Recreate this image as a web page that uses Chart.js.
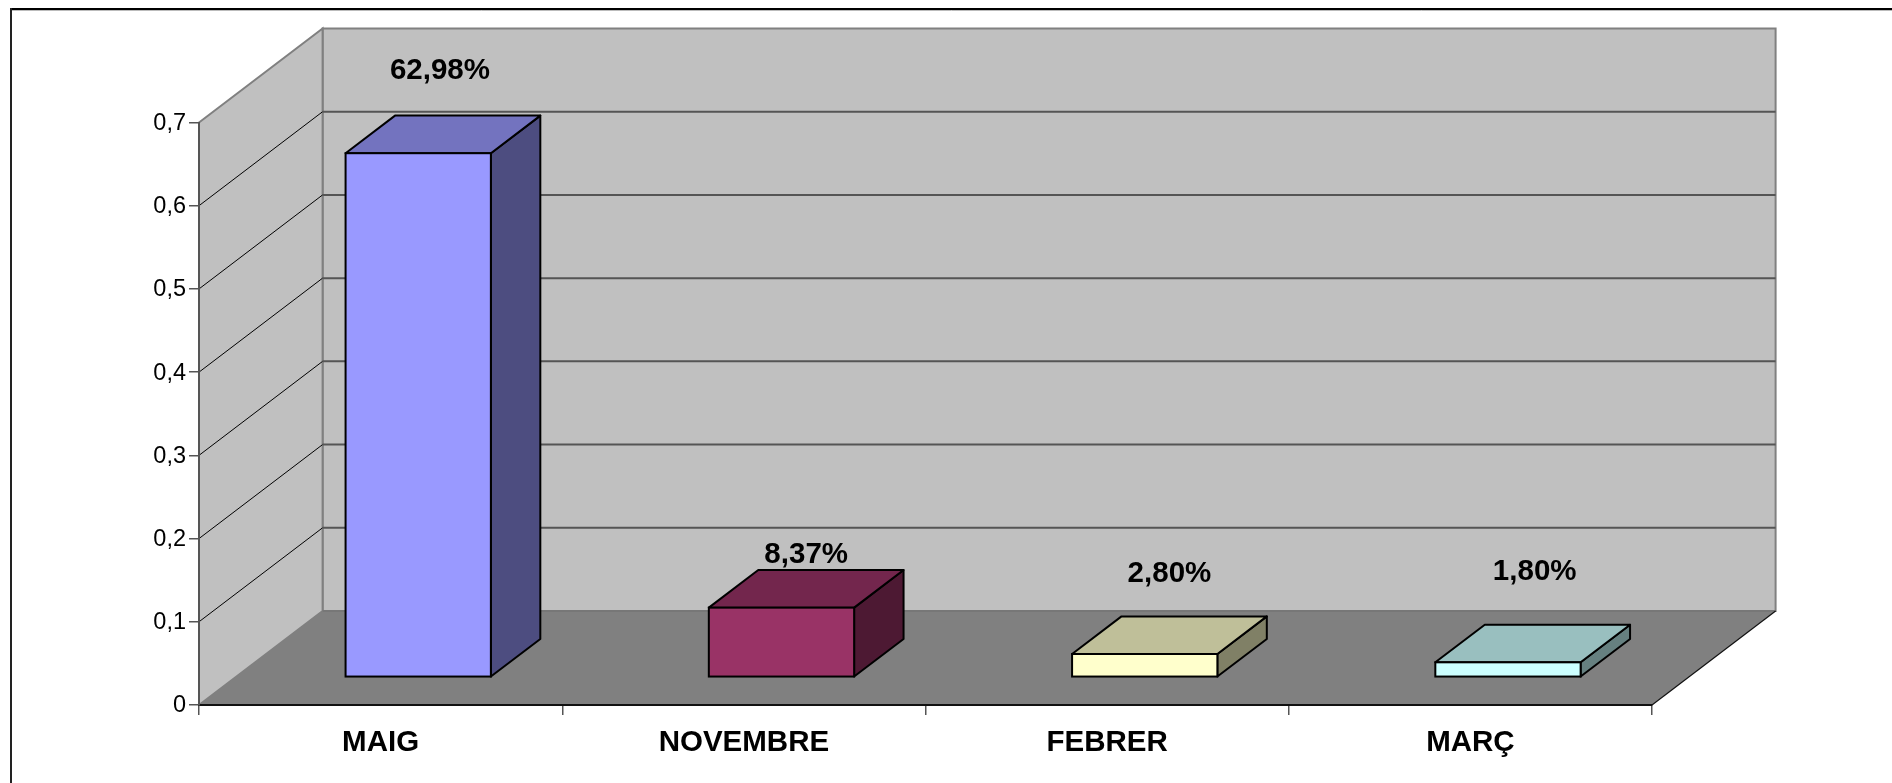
<!DOCTYPE html>
<html>
<head>
<meta charset="utf-8">
<title>MAIG NOVEMBRE FEBRER MARÇ</title>
<script src="https://cdn.jsdelivr.net/npm/chart.js@4"></script>
<style>
  html, body { margin: 0; padding: 0; background: #fff; overflow: hidden; }
  canvas { display: block; }
</style>
</head>
<body>
<canvas id="chart" width="1892" height="783"></canvas>
<script>
// values
const categories = ['MAIG', 'NOVEMBRE', 'FEBRER', 'MARÇ'];
const shares = [0.6298, 0.0837, 0.028, 0.018];
const yTicks = [0, 0.1, 0.2, 0.3, 0.4, 0.5, 0.6, 0.7];

const frontColors = ['#9999ff', '#993366', '#ffffcc', '#ccffff'];
const topColors = ['#7373bf', '#73264d', '#bfbf99', '#99bfbf'];
const sideColors = ['#4d4d80', '#4d1933', '#808066', '#668080'];

// the data labels were moved by hand in the original, so each has its own nudge
const labelLift = [45, 15, 43, 53];
const labelShift = [-3, 0, 0, 2];

// depth of the box in pixels, and how far in the bars stand
const DEPTH = { x: 123.6, y: -94 };
const BAR_DEPTH = 0.4;
const INSET_X = 37.6;
const INSET_Y = -27.7;

const FONT = '"Liberation Sans", Arial, sans-serif';

function poly(ctx, pts, fill, stroke, width) {
  ctx.beginPath();
  pts.forEach((p, i) => i ? ctx.lineTo(p[0], p[1]) : ctx.moveTo(p[0], p[1]));
  ctx.closePath();
  if (fill) { ctx.fillStyle = fill; ctx.fill(); }
  if (stroke) { ctx.strokeStyle = stroke; ctx.lineWidth = width; ctx.stroke(); }
}

function line(ctx, x1, y1, x2, y2, color, width) {
  ctx.beginPath();
  ctx.moveTo(x1, y1);
  ctx.lineTo(x2, y2);
  ctx.strokeStyle = color;
  ctx.lineWidth = width;
  ctx.stroke();
}

// picture frame, walls, floor and gridlines
const box3d = {
  id: 'box3d',
  beforeDraw(chart) {
    const { ctx, chartArea: a, scales } = chart;
    const bx = a.left + DEPTH.x, by = DEPTH.y;
    ctx.save();
    line(ctx, 11, 9, 1892, 9, '#000', 2);
    line(ctx, 1892, 10.5, 11, 10.5, '#bbb', 1);
    line(ctx, 11, 8, 11, 783, '#222', 2);

    const y0 = scales.y.getPixelForValue(0);
    const yTop = scales.y.getPixelForValue(0.7);
    // back wall
    poly(ctx, [[bx, yTop + by], [a.right + DEPTH.x, yTop + by], [a.right + DEPTH.x, y0 + by], [bx, y0 + by]], '#c0c0c0', '#808080', 2);
    // left wall
    poly(ctx, [[a.left, yTop], [bx, yTop + by], [bx, y0 + by], [a.left, y0]], '#c0c0c0', '#808080', 2);
    // gridlines run over the left wall and then along the back
    yTicks.slice(1, -1).forEach(v => {
      const y = scales.y.getPixelForValue(v);
      line(ctx, a.left, y, bx, y + by, '#000', 1);
      line(ctx, bx, y + by, a.right + DEPTH.x, y + by, '#555', 2);
    });
    // floor
    poly(ctx, [[a.left, y0], [bx, y0 + by], [a.right + DEPTH.x, y0 + by], [a.right, y0]], '#808080');
    line(ctx, bx, y0 + by, a.right + DEPTH.x, y0 + by, '#777', 2);
    line(ctx, a.right, y0, a.right + DEPTH.x, y0 + by, '#111', 1.2);
    ctx.restore();
  },
  beforeDatasetsDraw(chart) {
    const { ctx } = chart;
    const dx = DEPTH.x * BAR_DEPTH, dy = DEPTH.y * BAR_DEPTH;
    ctx.save();
    ctx.translate(INSET_X, INSET_Y);
    ctx.lineJoin = 'round';
    chart.getDatasetMeta(0).data.forEach((bar, i) => {
      const l = bar.x - bar.width / 2, r = bar.x + bar.width / 2;
      poly(ctx, [[r, bar.y], [r + dx, bar.y + dy], [r + dx, bar.base + dy], [r, bar.base]], sideColors[i], '#000', 2);
      poly(ctx, [[l, bar.y], [l + dx, bar.y + dy], [r + dx, bar.y + dy], [r, bar.y]], topColors[i], '#000', 2);
    });
    ctx.restore();
    // the front faces come from the bar elements, shifted into the box
    ctx.save();
    ctx.translate(INSET_X, INSET_Y);
  },
  afterDatasetsDraw(chart) {
    const { ctx } = chart;
    chart.getDatasetMeta(0).data.forEach(bar => {
      ctx.strokeStyle = '#000';
      ctx.lineWidth = 2;
      ctx.strokeRect(bar.x - bar.width / 2, bar.y, bar.width, bar.base - bar.y);
    });
    ctx.restore();
    ctx.save();
    ctx.font = 'bold 29.5px ' + FONT;
    ctx.fillStyle = '#000';
    ctx.textAlign = 'center';
    ctx.textBaseline = 'middle';
    chart.getDatasetMeta(0).data.forEach((bar, i) => {
      const text = (shares[i] * 100).toFixed(2).replace('.', ',') + '%';
      const x = bar.x + INSET_X + DEPTH.x * BAR_DEPTH / 2 + labelShift[i];
      const y = bar.y + INSET_Y + DEPTH.y * BAR_DEPTH - labelLift[i];
      ctx.fillText(text, x, y);
    });
    ctx.restore();
  }
};

new Chart(document.getElementById('chart'), {
  type: 'bar',
  data: {
    labels: categories,
    datasets: [{
      data: shares,
      backgroundColor: frontColors,
      borderWidth: 0,
      barPercentage: 0.4,
      categoryPercentage: 1,
      clip: false
    }]
  },
  options: {
    responsive: false,
    animation: false,
    layout: { padding: { top: 122.5, right: 240, bottom: 0, left: 0 } },
    plugins: { legend: { display: false }, tooltip: { enabled: false } },
    scales: {
      x: {
        offset: true,
        afterFit: s => { s.height = 78; },
        grid: { offset: true, drawOnChartArea: false, color: '#555', tickLength: 10, lineWidth: 1.5 },
        border: { color: '#111', width: 2 },
        ticks: { color: '#000', padding: 10, font: { family: FONT, size: 29.5, weight: 'bold' }, maxRotation: 0 }
      },
      y: {
        min: 0,
        max: 0.7,
        afterFit: s => { s.width = 199; },
        afterBuildTicks: s => { s.ticks = yTicks.map(v => ({ value: v })); },
        grid: { drawOnChartArea: false, color: '#555', tickLength: 10, lineWidth: 1.5 },
        border: { color: '#555', width: 2 },
        ticks: { color: '#000', padding: 3, labelOffset: 1, font: { family: FONT, size: 23.5 }, callback: v => String(v).replace('.', ',') }
      }
    }
  },
  plugins: [box3d]
});
</script>
</body>
</html>
